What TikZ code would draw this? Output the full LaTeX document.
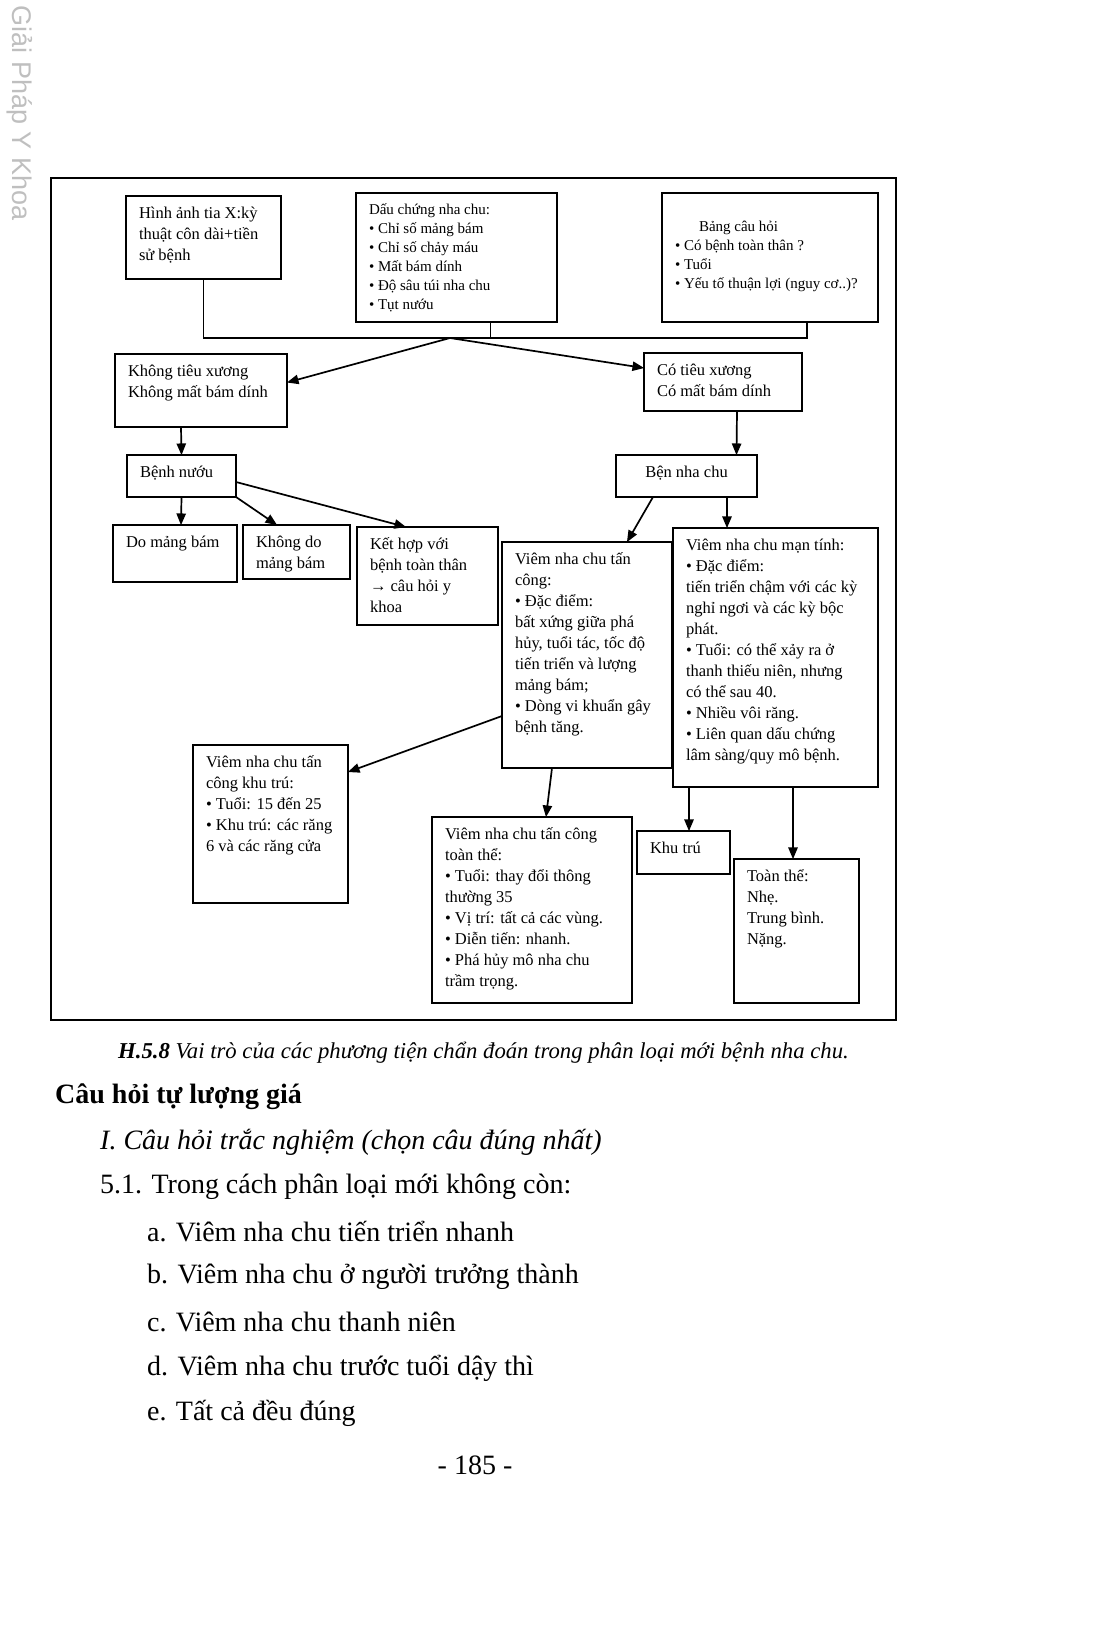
\documentclass[tikz,border=0pt]{standalone}
\usepackage{fontspec}
\setmainfont{Liberation Serif}
\newfontfamily\wmfont{Liberation Sans}
\usetikzlibrary{positioning,arrows}

\newcommand{\bx}[3]{\parbox[c][#2][t]{#1}{\raggedright\strut #3}}
\newcommand{\bfs}{\fontsize{16.5}{21}\selectfont}
\newcommand{\sfs}{\fontsize{15}{19}\selectfont}

\begin{document}
\begin{tikzpicture}
    [x=1pt,y=-1pt,
     box/.style={draw, line width=1.4pt, anchor=north west, inner xsep=13pt, inner ysep=8pt, outer sep=0pt, font=\bfs},
     arr/.style={-triangle 45, line width=1.7pt},
     para/.style={anchor=west, inner sep=0pt, font=\fontsize{28}{33}\selectfont}]
  \useasboundingbox (0,0) rectangle (1100,1643);
  \node[rotate=-90, text=gray!50, font=\wmfont\fontsize{27}{30}\selectfont] (wm) at (20,113) {Giải Pháp Y Khoa};
  \draw[line width=1.4pt] (51,178) rectangle (896,1020);

  \node[box] (xq) at (126,196) {\bx{129pt}{67pt}{Hình ảnh tia X:kỳ\\thuật côn dài+tiền\\sử bệnh}};
  \node[box, font=\sfs] (dc) at (356,193) {\bx{175pt}{113pt}{Dấu chứng nha chu:\\• Chỉ số mảng bám\\• Chỉ số chảy máu\\• Mất bám dính\\• Độ sâu túi nha chu\\• Tụt nướu}};
  \node[box, font=\sfs] (bch) at (662,193) {\bx{190pt}{113pt}{\rule{0pt}{30pt}\hspace*{24pt}Bảng câu hỏi\\• Có bệnh toàn thân ?\\• Tuổi\\• Yếu tố thuận lợi (nguy cơ..)?}};
  \node[box] (kt) at (115,354) {\bx{146pt}{57pt}{Không tiêu xương\\Không mất bám dính}};
  \node[box] (ct) at (644,353) {\bx{132pt}{42pt}{Có tiêu xương\\Có mất bám dính}};
  \node[box] (bn) at (127,455) {\bx{83pt}{26pt}{Bệnh nướu}};
  \node[box] (bnc) at (616,455) {\bx{115pt}{26pt}{\centering Bện nha chu}};
  \node[box] (dmb) at (113,525) {\bx{98pt}{41pt}{Do mảng bám}};
  \node[box] (kdmb) at (243,525) {\bx{81pt}{38pt}{Không do\\mảng bám}};
  \node[box] (kh) at (357,527) {\bx{115pt}{82pt}{Kết hợp với\\bệnh toàn thân\\→ câu hỏi y\\khoa}};
  \node[box] (tc) at (502,542) {\bx{144pt}{210pt}{Viêm nha chu tấn\\công:\\• Đặc điểm:\\bất xứng giữa phá\\hủy, tuổi tác, tốc độ\\tiến triển và lượng\\mảng bám;\\• Dòng vi khuẩn gây\\bệnh tăng.}};
  \node[box] (mt) at (673,528) {\bx{179pt}{243pt}{Viêm nha chu mạn tính:\\• Đặc điểm:\\tiến triển chậm với các kỳ\\nghỉ ngơi và các kỳ bộc\\phát.\\• Tuổi: có thể xảy ra ở\\thanh thiếu niên, nhưng\\có thể sau 40.\\• Nhiều vôi răng.\\• Liên quan dấu chứng\\lâm sàng/quy mô bệnh.}};
  \node[box] (ktr) at (193,745) {\bx{129pt}{142pt}{Viêm nha chu tấn\\công khu trú:\\• Tuổi: 15 đến 25\\• Khu trú: các răng\\6 và các răng cửa}};
  \node[box] (tt) at (432,817) {\bx{174pt}{170pt}{Viêm nha chu tấn công\\toàn thể:\\• Tuổi: thay đổi thông\\thường 35\\• Vị trí: tất cả các vùng.\\• Diễn tiến: nhanh.\\• Phá hủy mô nha chu\\trầm trọng.}};
  \node[box] (khu) at (637,831) {\bx{67pt}{27pt}{Khu trú}};
  \node[box] (toan) at (734,859) {\bx{99pt}{128pt}{Toàn thể:\\Nhẹ.\\Trung bình.\\Nặng.}};

  % gom ba nguon chan doan
  \coordinate (j) at (450,338);
  \coordinate (dq) at ([xshift=34pt]dc.south);
  \coordinate (bq) at ([xshift=37pt]bch.south);
  \draw[line width=1.4pt] (xq.south) |- (bq |- j) -- (bq);
  \draw[line width=1.4pt] (dq) -- (dq |- j);

  \draw[arr] (j) -- ([yshift=8pt]kt.east);
  \draw[arr] (j) -- ([yshift=14pt]ct.west);
  \draw[arr] ([xshift=14pt]ct.south) -- ([xshift=50pt]bnc.north);
  \draw[arr] ([xshift=-20pt]kt.south) -- (bn.north);
  \draw[arr] (bn.south) -- ([xshift=6pt]dmb.north);
  \draw[arr] (bn.south east) -- ([xshift=34pt]kdmb.north west);
  \draw[arr] ([yshift=-6pt]bn.east) -- ([xshift=49pt]kh.north west);
  \draw[arr] ([xshift=37pt]bnc.south west) -- ([xshift=125pt]tc.north west);
  \draw[arr] ([xshift=111pt]bnc.south west) -- ([xshift=54pt]mt.north west);
  \draw[arr] ([yshift=-174pt]tc.north west) -- ([yshift=-27pt]ktr.north east);
  \draw[arr] ([xshift=50pt]tc.south west) -- ([xshift=114pt]tt.north west);
  \draw[arr] ([xshift=16pt]mt.south west) -- ([xshift=52pt]khu.north west);
  \draw[arr] ([xshift=120pt]mt.south west) -- ([xshift=59pt]toan.north west);

  \node[anchor=west, inner sep=0pt, font=\fontsize{22.7}{26}\selectfont\itshape] (cap) at (118,1053) {\textbf{H.5.8} Vai trò của các phương tiện chẩn đoán trong phân loại mới bệnh nha chu.};
  \node[para, font=\fontsize{28}{33}\selectfont\bfseries] (head) at (55,1097) {Câu hỏi tự lượng giá};
  \node[para, font=\fontsize{28}{33}\selectfont\itshape] (q1) at (100,1142) {I. Câu hỏi trắc nghiệm (chọn câu đúng nhất)};
  \node[para] (q51) at (100,1187) {5.1. Trong cách phân loại mới không còn:};
  \node[para] (qa) at (147,1232) {a. Viêm nha chu tiến triển nhanh};
  \node[para] (qb) at (147,1277) {b. Viêm nha chu ở người trưởng thành};
  \node[para] (qc) at (147,1322) {c. Viêm nha chu thanh niên};
  \node[para] (qd) at (147,1368) {d. Viêm nha chu trước tuổi dậy thì};
  \node[para] (qe) at (147,1413) {e. Tất cả đều đúng};
  \node[font=\fontsize{28}{33}\selectfont] (pg) at (475,1465) {- 185 -};
\end{tikzpicture}
\end{document}
